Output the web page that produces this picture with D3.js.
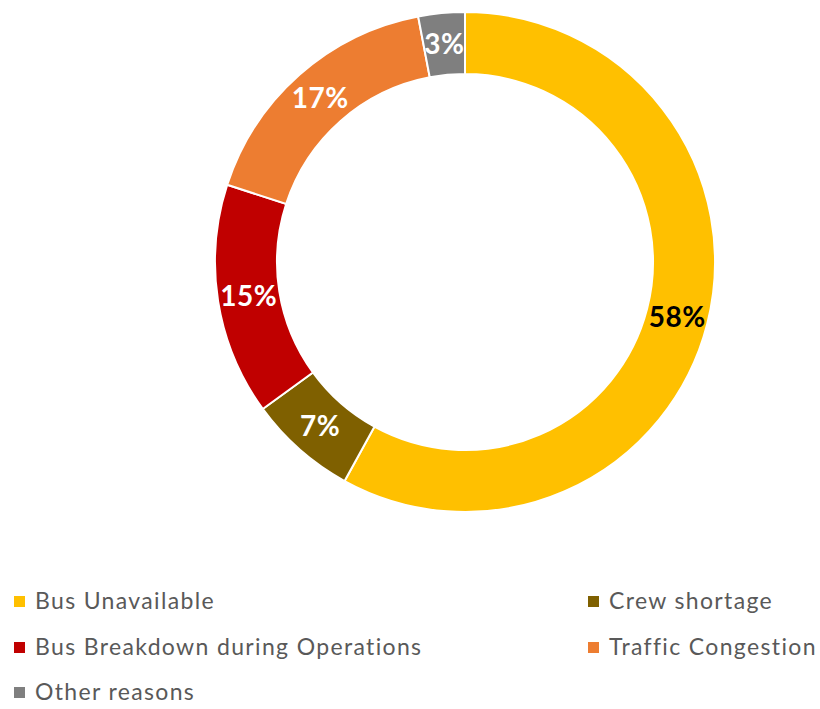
<!DOCTYPE html>
<html>
<head>
<meta charset="utf-8">
<script src="https://cdn.jsdelivr.net/npm/d3@7"></script>
<style>
  body { margin: 0; background: #fff; }
  svg { display: block; }
</style>
</head>
<body>
<svg width="820" height="709"></svg>
<script>
// data
var categories = ['Bus Unavailable', 'Crew shortage', 'Bus Breakdown during Operations', 'Traffic Congestion', 'Other reasons'];
var values = [58, 7, 15, 17, 3];
var colors = ['#FFC000', '#7F6000', '#C00000', '#ED7D31', '#7F7F7F'];
var labelColors = ['#000', '#fff', '#fff', '#fff', '#fff'];

var svg = d3.select('svg');
var cx = 465, cy = 262, outerR = 250, innerR = 188;

var pie = d3.pie().sort(null).value(function(d) { return d; });
var arc = d3.arc().innerRadius(innerR).outerRadius(outerR);

var g = svg.append('g').attr('transform', 'translate(' + cx + ',' + cy + ')');

var arcs = pie(values);

g.selectAll('path')
  .data(arcs)
  .enter()
  .append('path')
  .attr('d', arc)
  .style('fill', function(d, i) { return colors[i]; })
  .style('stroke', '#fff')
  .style('stroke-width', 2);

g.selectAll('text')
  .data(arcs)
  .enter()
  .append('text')
  .attr('transform', function(d) { return 'translate(' + arc.centroid(d) + ')'; })
  .attr('text-anchor', 'middle')
  .attr('dy', '0.36em')
  .style('font-family', 'Lato, "Open Sans", sans-serif')
  .style('font-weight', 'bold')
  .style('font-size', '28px')
  .style('letter-spacing', '0.5px')
  .style('fill', function(d, i) { return labelColors[i]; })
  .text(function(d) { return d.data + '%'; });

// legend, two columns
var legendX = [14, 588], legendY = [601, 647, 692];
var legend = svg.selectAll('g.legend')
  .data(categories)
  .enter()
  .append('g')
  .attr('class', 'legend')
  .attr('transform', function(d, i) {
    return 'translate(' + legendX[i % 2] + ',' + legendY[Math.floor(i / 2)] + ')';
  });

legend.append('rect')
  .attr('x', 0).attr('y', -5)
  .attr('width', 11).attr('height', 11)
  .style('fill', function(d, i) { return colors[i]; });

legend.append('text')
  .attr('x', 21)
  .attr('dy', '0.35em')
  .style('font-family', 'Lato, "Open Sans", sans-serif')
  .style('font-size', '23px')
  .style('letter-spacing', '1.35px')
  .style('fill', '#595959')
  .text(function(d) { return d; });
</script>
</body>
</html>
